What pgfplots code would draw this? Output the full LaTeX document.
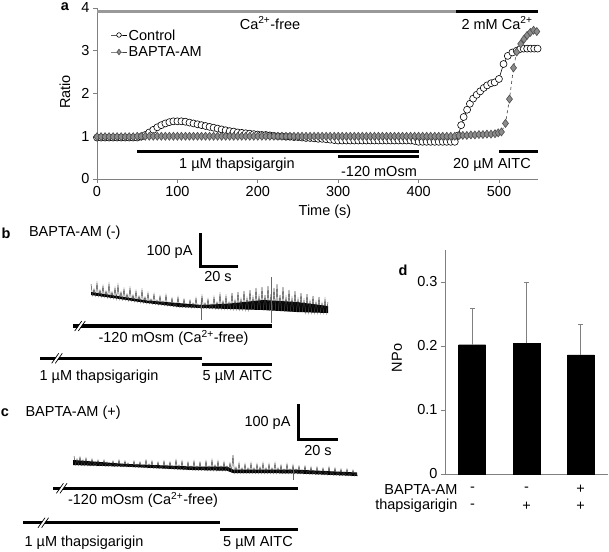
\documentclass[border=0pt]{standalone}
\usepackage{fontspec}
\setmainfont{Liberation Sans}
\usepackage{pgfplots}
\pgfplotsset{compat=1.18}
\newcommand{\caa}{Ca\textsuperscript{2+}}
\newcommand{\brk}[2]{%
  \draw[white, line width=2.2bp] ({#1-3.5},{#2+5}) -- ({#1+3.5},{#2-5});
  \draw[black, line width=0.7bp] ({#1-5.3},{#2+5}) -- ({#1+1.7},{#2-5});
  \draw[black, line width=0.7bp] ({#1-1.7},{#2+5}) -- ({#1+5.3},{#2-5});}
\begin{document}
\begin{tikzpicture}[font=\fontsize{14.5bp}{17bp}\selectfont]
\useasboundingbox (0bp,0bp) rectangle (609bp,-552bp);
\pgfplotsset{myaxis/.style={scale only axis, axis x line*=bottom, axis y line*=left,
  axis line style={black!50, line width=0.8bp, -}, tick align=outside, major tick length=4bp,
  tick style={black!50, line width=0.8bp}, /pgf/number format/assume math mode=true, clip=false},
  ctrl/.style={black, line width=0.6bp, mark=*, mark size=3.5bp, mark options={fill=white, draw=black, line width=0.6bp}},
  bapta/.style={black!75, dashed, line width=0.6bp, mark=diamond*, mark size=4bp,
  mark options={solid, fill=black!45, draw=black!70, line width=0.6bp}}}

% ---------------- panel a ----------------
\begin{axis}[myaxis, at={(97bp,-179bp)}, anchor=south west, width=440.6bp, height=171bp,
  xmin=0, xmax=548, ymin=0, ymax=4, xtick={0,100,200,300,400,500}, ytick={0,1,2,3,4}]
\addplot[black!40, line width=3bp] coordinates {(0,3.91)(447,3.91)};
\addplot[black, line width=3bp] coordinates {(447,3.91)(548,3.91)};
\addplot[black, line width=3.3bp] coordinates {(50,0.65)(400,0.65)};
\addplot[black, line width=3.3bp] coordinates {(300,0.52)(400,0.52)};
\addplot[black, line width=3.3bp] coordinates {(500,0.65)(548,0.65)};
\addplot[ctrl] coordinates {
(0,0.97)(5,0.97)(10,0.97)(15,0.97)(20,0.97)(25,0.97)(30,0.97)(35,0.97)(40,0.97)(45,0.97)(50,0.97)
(55,0.99)(60,1.03)(65,1.09)(70,1.15)(75,1.21)(80,1.26)(85,1.30)(90,1.33)(95,1.35)(100,1.35)
(105,1.35)(110,1.34)(115,1.32)(120,1.30)(125,1.28)(130,1.26)(135,1.24)(140,1.22)(145,1.20)(150,1.18)
(155,1.16)(160,1.14)(165,1.12)(170,1.11)(175,1.09)(180,1.08)(185,1.07)(190,1.06)(195,1.05)(200,1.04)
(205,1.03)(210,1.03)(215,1.02)(220,1.01)(225,1.00)(230,1.00)(235,0.99)(240,0.99)(245,0.98)(250,0.98)
(255,0.97)(260,0.96)(265,0.96)(270,0.95)(275,0.94)(280,0.94)(285,0.93)(290,0.92)(295,0.91)(300,0.90)
(305,0.90)(310,0.90)(315,0.90)(320,0.90)(325,0.90)(330,0.90)(335,0.90)(340,0.90)(345,0.90)(350,0.90)
(355,0.90)(360,0.90)(365,0.90)(370,0.90)(375,0.90)(380,0.90)(385,0.90)(390,0.90)(395,0.89)(400,0.87)
(405,0.87)(410,0.87)(415,0.87)(420,0.87)(425,0.87)(430,0.87)(435,0.87)(440,0.87)(445,0.87)
(449.4,1.02)(452.9,1.26)(456,1.45)(460.3,1.62)(463.8,1.76)(467.8,1.88)(472.2,1.97)(476.6,2.05)
(481,2.13)(485.3,2.19)(490.2,2.24)(494.6,2.26)(499.9,2.34)(505.6,2.69)(510.9,2.88)(516.6,2.96)
(521.9,3.00)(526.3,3.04)(530.6,3.05)(535,3.05)(539.4,3.05)(543.8,3.05)(548,3.05)};
\addplot[bapta, error bars/.cd, y dir=both, y explicit, error mark=none,
  error bar style={solid, black!70, line width=0.6bp}] coordinates {
(0,0.99)(5,0.99)(10,0.99)(15,0.99)(20,0.99)(25,0.99)(30,0.99)(35,0.99)(40,0.99)(45,0.99)(50,1.00)
(55,1.00)(60,1.00)(65,1.00)(70,1.00)(75,1.00)(80,1.00)(85,1.00)(90,1.00)(95,1.00)(100,1.00)
(105,1.00)(110,1.00)(115,1.00)(120,1.00)(125,1.00)(130,1.00)(135,1.00)(140,1.00)(145,1.00)(150,1.00)
(155,1.00)(160,1.00)(165,1.00)(170,1.00)(175,1.00)(180,1.00)(185,1.00)(190,1.00)(195,1.00)(200,1.00)
(205,1.00)(210,1.00)(215,1.00)(220,1.00)(225,1.00)(230,1.00)(235,1.00)(240,1.00)(245,1.00)(250,1.00)
(255,1.00)(260,1.00)(265,1.00)(270,1.00)(275,1.00)(280,1.00)(285,1.00)(290,1.00)(295,1.00)(300,1.00)
(305,1.00)(310,1.00)(315,1.00)(320,1.00)(325,1.00)(330,1.00)(335,1.00)(340,1.00)(345,1.00)(350,1.00)
(355,1.00)(360,1.00)(365,1.00)(370,1.00)(375,1.00)(380,1.00)(385,1.00)(390,1.00)(395,1.00)(400,1.00)
(405,1.00)(410,1.00)(415,1.00)(420,1.00)(425,1.00)(430,1.00)(435,1.00)(440,1.00)(445,1.00)(450,1.01)
(455,1.02)(460,1.02)(465,1.03)(470,1.03)(475,1.04)(480,1.04)(485,1.05)(490,1.05)(495,1.06)(499,1.08)
(503,1.10)(508,1.30) +- (0,0.04) (513,1.87) +- (0,0.08) (518,2.60) +- (0,0.08) (522,2.97) +- (0,0.06)
(527,3.16) +- (0,0.05) (531,3.27) +- (0,0.05) (535,3.36) +- (0,0.05) (539,3.43) +- (0,0.05)
(543,3.48) +- (0,0.05) (547,3.45) +- (0,0.04)};
\end{axis}

% ---------------- panel d ----------------
\begin{axis}[myaxis, at={(445bp,-474bp)}, anchor=south west, width=163bp, height=224bp,
  xmin=0, xmax=3, ymin=0, ymax=0.35, xtick=\empty, ytick={0,0.1,0.2,0.3}, ybar, bar width=27bp]
\addplot[fill=black, draw=black, error bars/.cd, y dir=plus, y explicit,
  error bar style={black!50, line width=0.8bp},
  error mark options={black!50, rotate=90, mark size=2.5bp, line width=0.8bp}]
  coordinates {(0.5,0.202) +- (0,0.056) (1.5,0.204) +- (0,0.096) (2.5,0.186) +- (0,0.048)};
\end{axis}

% ---------------- overlay (pixel coordinates): legend, panels b, c and labels ----------------
\begin{axis}[at={(0bp,0bp)}, anchor=north west, scale only axis, width=609bp, height=552bp,
  xmin=0, xmax=609, ymin=0, ymax=552, y dir=reverse, hide axis, clip=false]
% legend of panel a
\addplot[ctrl, mark size=2.3bp, mark repeat=2, mark phase=2] coordinates {(111,35)(119,35)(127,35)};
\addplot[bapta, solid, mark size=2.8bp, mark repeat=2, mark phase=2] coordinates {(111,52)(119,52)(127,52)};
\node[anchor=west, inner sep=0pt] at (128.5,35) {Control};
\node[anchor=west, inner sep=0pt] at (128.5,52) {BAPTA-AM};
% trace b
\addplot[fill=black, draw=none] coordinates {(91,292)(147,300.5)(202,305)(230,303.5)(263,300)(297,302)(328,306)
 (328,313)(297,312)(263,310)(230,309)(202,308)(180,307)(147,303)(113,298)(91,295)};
\addplot[black!80, line width=0.45bp] coordinates {
(91,284)(92.5,295.4)(94,289)(95.5,295.8)(97,283)(98.5,296.2)(100,290)(101.5,296.6)(103,286)(104.5,297)
(106,291)(107.5,297.5)(109,284)(110.5,297.9)(112,292)(113.5,298.3)(115,288)(116.5,298.7)(118,285)(119.5,299.2)
(121,292)(122.5,299.6)(124,289)(125.5,300)(127,294)(128.5,300.5)(130,288)(131.5,300.9)(133,295)(134.5,301.4)
(136,291)(137.5,301.8)(139,296)(140.5,302.3)(142,290)(143.5,302.7)(145,297)(146.5,303.1)(148,293)(149.5,303.5)
(151,299)(152.5,303.8)(154,294)(155.5,304.2)(157,300)(158.5,304.6)(160,296)(161.5,304.9)(163,301)(164.5,305.3)
(166,295)(167.5,305.7)(169,302)(170.5,306)(172,298)(173.5,306.4)(175,303)(176.5,306.8)(178,297)(179.5,307)
(181,304)(182.5,307.2)(184,299)(185.5,307.3)(187,305)(188.5,307.5)(190,300)(191.5,307.6)(193,303)(194.5,307.7)
(196,298)(197.5,307.9)(199,305)(200.5,308)(202,296)(203.5,308.1)(205,303)(206.5,308.2)(208,299)(209.5,308.3)
(211,304)(212.5,308.4)(214,297)(215.5,308.5)(217,302)(218.5,308.6)(220,294)(221.5,308.8)(223,301)(224.5,308.9)
(226,296)(227.5,309)(229,302)(230.5,309.1)(232,293)(233.5,309.2)(235,300)(236.5,309.2)(238,292)(239.5,309.3)
(241,299)(242.5,309.4)(244,291)(245.5,309.5)(247,298)(248.5,309.6)(250,290)(251.5,309.7)(253,297)(254.5,309.8)
(256,288)(257.5,309.9)(259,296)(260.5,310)(262,287)(263.5,310.1)(265,295)(266.5,310.3)(268,286)(269.5,310.5)
(271,294)(272.5,310.6)(274,288)(275.5,310.8)(277,284)(278.5,311)(280,295)(281.5,311.2)(283,287)(284.5,311.4)
(286,297)(287.5,311.5)(289,290)(290.5,311.7)(292,298)(293.5,311.9)(295,291)(296.5,312)(298,299)(299.5,312.1)
(301,293)(302.5,312.2)(304,300)(305.5,312.3)(307,294)(308.5,312.4)(310,301)(311.5,312.5)(313,296)(314.5,312.6)
(316,302)(317.5,312.7)(319,297)(320.5,312.8)(322,303)(323.5,312.9)(325,299)(326.5,313)(328,302)};
\addplot[black!60, line width=0.6bp] coordinates {(201.7,300)(201.7,320)};
\addplot[black!60, line width=0.6bp] coordinates {(271.7,277)(271.7,323)};
% trace c
\addplot[fill=black, draw=none] coordinates {(73,460)(127,464)(193,466.5)(227,466.5)(233,469.5)(293,469.5)(357,472.5)
 (357,476)(293,473.3)(233,473)(227,470.7)(193,470)(127,466.7)(73,465)};
\addplot[black!80, line width=0.45bp] coordinates {
(74,456)(75.5,465)(77,459)(78.5,465.1)(80,457)(81.5,465.2)(83,460)(84.5,465.3)(86,458)(87.5,465.4)
(89,461)(90.5,465.5)(92,459)(93.5,465.6)(95,462)(96.5,465.7)(98,460)(99.5,465.8)(101,463)(102.5,465.9)
(104,460)(105.5,466)(107,462)(108.5,466.1)(110,464)(111.5,466.2)(113,461)(114.5,466.3)(116,463)(117.5,466.4)
(119,460)(120.5,466.5)(122,464)(123.5,466.6)(125,461)(126.5,466.7)(128,463)(129.5,466.8)(131,465)(132.5,466.9)
(134,461)(135.5,467.1)(137,464)(138.5,467.2)(140,462)(141.5,467.4)(143,465)(144.5,467.5)(146,460)(147.5,467.7)
(149,464)(150.5,467.8)(152,461)(153.5,468)(155,465)(156.5,468.1)(158,462)(159.5,468.3)(161,466)(162.5,468.4)
(164,461)(165.5,468.6)(167,465)(168.5,468.7)(170,462)(171.5,468.9)(173,466)(174.5,469)(176,460)(177.5,469.2)
(179,465)(180.5,469.3)(182,461)(183.5,469.5)(185,466)(186.5,469.6)(188,462)(189.5,469.8)(191,466)(192.5,469.9)
(194,461)(195.5,470)(197,466)(198.5,470.1)(200,462)(201.5,470.2)(203,467)(204.5,470.2)(206,461)(207.5,470.3)
(209,466)(210.5,470.3)(212,460)(213.5,470.4)(215,465)(216.5,470.5)(218,461)(219.5,470.5)(221,466)(222.5,470.6)
(224,462)(225.5,470.6)(227,466)(228.5,470.7)(230,463)(231.5,471.5)(233,455)(234.5,473)(236,467)(237.5,473)
(239,463)(240.5,473)(242,468)(243.5,473)(245,464)(246.5,473)(248,468)(249.5,473.1)(251,463)(252.5,473.1)
(254,468)(255.5,473.1)(257,464)(258.5,473.1)(260,467)(261.5,473.1)(263,463)(264.5,473.2)(266,468)(267.5,473.2)
(269,464)(270.5,473.2)(272,468)(273.5,473.2)(275,463)(276.5,473.2)(278,468)(279.5,473.2)(281,465)(282.5,473.3)
(284,469)(285.5,473.3)(287,464)(288.5,473.3)(290,469)(291.5,473.3)(293,465)(294.5,473.4)(296,469)(297.5,473.5)
(299,466)(300.5,473.6)(302,470)(303.5,473.7)(305,466)(306.5,473.9)(308,470)(309.5,474)(311,467)(312.5,474.1)
(314,471)(315.5,474.3)(317,467)(318.5,474.4)(320,471)(321.5,474.5)(323,468)(324.5,474.6)(326,471)(327.5,474.8)
(329,467)(330.5,474.9)(332,472)(333.5,475)(335,468)(336.5,475.1)(338,472)(339.5,475.3)(341,469)(342.5,475.4)
(344,472)(345.5,475.5)(347,469)(348.5,475.6)(350,473)(351.5,475.8)(353,470)(354.5,475.9)(356,473)(357.5,476)};
\addplot[black!60, line width=0.6bp] coordinates {(293,468)(293,480)};
% scale bars
\addplot[black, line width=3bp, line join=miter] coordinates {(200,233)(200,266)(238,266)};
\addplot[black, line width=3bp, line join=miter] coordinates {(298,404)(298,439)(338,439)};
% application bars b
\addplot[black, line width=3.3bp] coordinates {(73,326)(272,326)};
\addplot[black, line width=3.3bp] coordinates {(40,358.3)(201.7,358.3)};
\addplot[black, line width=3.3bp] coordinates {(201.7,364.3)(271.7,364.3)};
% application bars c
\addplot[black, line width=3.3bp] coordinates {(53.3,488.3)(298.3,488.3)};
\addplot[black, line width=3.3bp] coordinates {(23.3,522.7)(220,522.7)};
\addplot[black, line width=3.3bp] coordinates {(220,529.3)(298.3,529.3)};
% break marks
\brk{80}{326}
\brk{57}{358.3}
\brk{61.7}{488.3}
\brk{43.3}{522.7}
% panel a texts
\node[font=\fontsize{14.5bp}{17bp}\selectfont\bfseries] at (65,7) {a};
\node[rotate=90] at (65,92) {Ratio};
\node at (325,212) {Time (s)};
\node at (270,23) {\caa-free};
\node at (497,23) {2 mM \caa};
\node at (237,165) {1 µM thapsigargin};
\node at (379,171) {-120 mOsm};
\node at (492,165) {20 µM AITC};
% panel b texts
\node[font=\fontsize{14.5bp}{17bp}\selectfont\bfseries] at (6,233) {b};
\node[anchor=west] at (25.5,233) {BAPTA-AM (-)};
\node[anchor=east] at (196,252) {100 pA};
\node at (218,276) {20 s};
\node at (173.5,338) {-120 mOsm (\caa-free)};
\node at (99,377) {1 µM thapsigarigin};
\node at (237.5,377) {5 µM AITC};
% panel c texts
\node[font=\fontsize{14.5bp}{17bp}\selectfont\bfseries] at (5,413) {c};
\node[anchor=west] at (22,413) {BAPTA-AM (+)};
\node[anchor=east] at (294,423) {100 pA};
\node at (318,450) {20 s};
\node at (143,500) {-120 mOsm (\caa-free)};
\node at (84,543) {1 µM thapsigarigin};
\node at (258,543) {5 µM AITC};
% panel d texts
\node[font=\fontsize{14.5bp}{17bp}\selectfont\bfseries] at (403,270) {d};
\node[rotate=90] at (397,358) {NPo};
\node[anchor=east] at (461,489.3) {BAPTA-AM};
\node[anchor=east] at (461,506) {thapsigarigin};
\node at (472.5,489.3) {-};
\node at (526.5,489.3) {-};
\node at (580.5,489.3) {+};
\node at (472.5,506) {-};
\node at (526.5,506) {+};
\node at (580.5,506) {+};
\end{axis}
\end{tikzpicture}
\end{document}
